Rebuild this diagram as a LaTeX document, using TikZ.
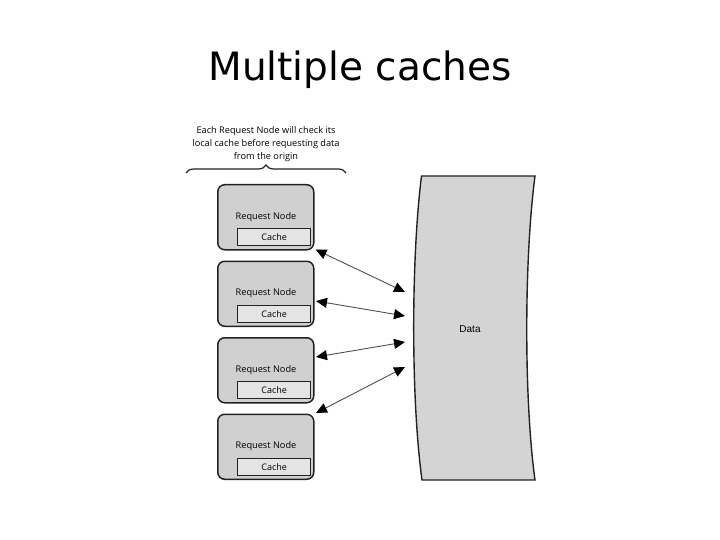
\documentclass[tikz,border=0pt]{standalone}
\usepackage{fontspec}
\setmainfont{Open Sans}
\newfontfamily\titlefont{DejaVu Sans}
\newfontfamily\datafont{Liberation Sans}
\usetikzlibrary{arrows.meta,decorations.pathreplacing}
\definecolor{boxfill}{HTML}{D0D0D0}
\definecolor{cachefill}{HTML}{E4E4E4}
\definecolor{datafill}{HTML}{D4D4D4}
\definecolor{edge}{HTML}{222222}
\tikzset{
  reqbox/.style={draw=edge, line width=1.5pt, fill=boxfill, rounded corners=7pt,
    minimum width=96pt, minimum height=65pt, inner sep=0pt},
  cachebox/.style={draw=edge, line width=1.4pt, fill=cachefill,
    minimum width=73pt, minimum height=17pt, inner sep=0pt,
    font=\fontsize{9}{10}\selectfont},
  reqlabel/.style={font=\fontsize{9.2}{10}\selectfont, inner sep=0pt},
  link/.style={draw=edge!80, line width=0.9pt,
    {Triangle[length=11pt,width=10pt,color=black]}-{Triangle[length=11pt,width=10pt,color=black]}}
}
\begin{document}
\begin{tikzpicture}[x=1pt,y=-1pt]
\useasboundingbox (0,0) rectangle (720,540);

\node (title) at (360,70) {\titlefont\fontsize{39}{41}\selectfont Multiple caches};

\node (note) [align=center, font=\fontsize{9.2}{13}\selectfont, inner sep=0pt] at (266,144)
  {Each Request Node will check its\\local cache before requesting data\\from the origin};
\coordinate (bl) at (186,173);
\coordinate (br) at (346,173);
\draw[edge, line width=1.2pt, decorate, decoration={brace, amplitude=8pt}] (bl) -- (br);

\foreach \i/\t in {1/184,2/260.5,3/337,4/413.5}{
  \node[reqbox, anchor=north west] (rn\i) at (217,\t) {};
  \node[reqlabel] (rl\i) at (266,\t+33) {Request Node};
  \node[cachebox, anchor=north west] (c\i) at (237,\t+44) {Cache};
}

\draw[draw=edge, line width=1.4pt, fill=datafill]
  (421.5,176) -- (535,176)
  .. controls (524,260) and (524,400) .. (535,480)
  -- (422,480)
  .. controls (411,400) and (411,260) .. (421.5,176) -- cycle;
\node (data) at (470,329) {\datafont\fontsize{10}{11}\selectfont Data};

\coordinate (s1) at (315.5,249.5);
\coordinate (s2) at (316,301);
\coordinate (s3) at (316,357);
\coordinate (s4) at (316,413);
\coordinate (e1) at (405,292);
\coordinate (e2) at (405,316);
\coordinate (e3) at (405,342);
\coordinate (e4) at (405,367);
\foreach \i in {1,2,3,4}{
  \draw[link] (s\i) -- (e\i);
}
\end{tikzpicture}
\end{document}
